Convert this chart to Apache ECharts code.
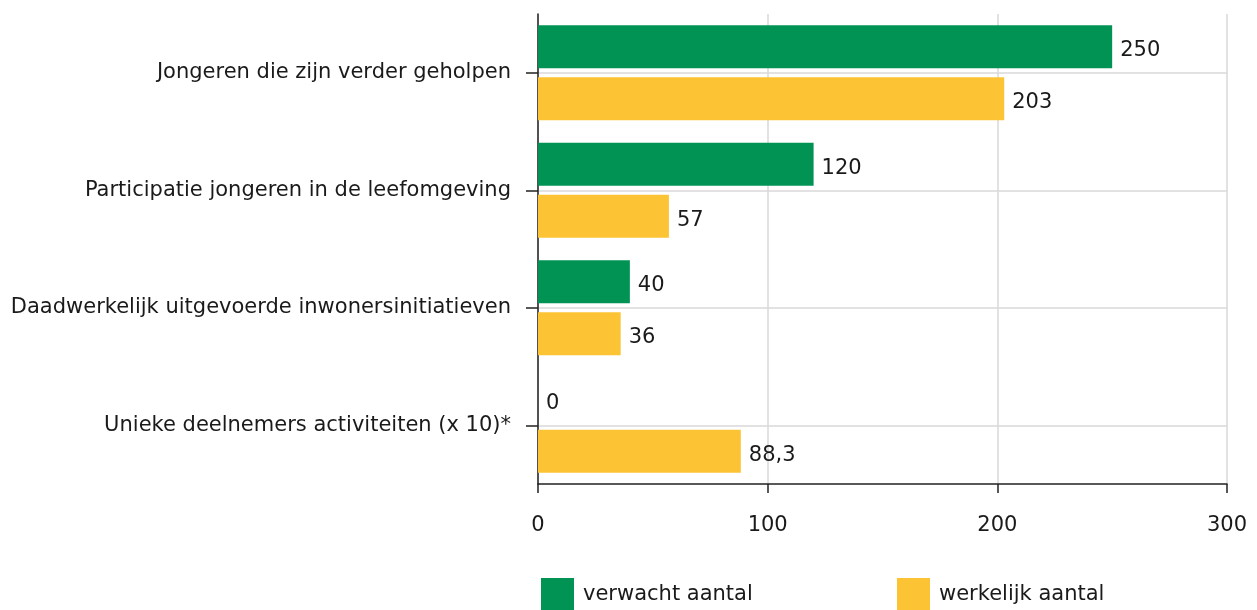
<!DOCTYPE html>
<html>
<head>
<meta charset="utf-8">
<script src="https://cdn.jsdelivr.net/npm/echarts@6/dist/echarts.min.js"></script>
<style>
html,body{margin:0;padding:0;background:#fff;}
#chart{width:1257px;height:610px;}
</style>
</head>
<body>
<div id="chart"></div>
<script>
const categories = [
  'Jongeren die zijn verder geholpen',
  'Participatie jongeren in de leefomgeving',
  'Daadwerkelijk uitgevoerde inwonersinitiatieven',
  'Unieke deelnemers activiteiten (x 10)*'
];
const seriesNames = ['verwacht aantal', 'werkelijk aantal'];
const verwacht = [250, 120, 40, 0];
const werkelijk = [203, 57, 36, 88.3];
const xTicks = { min: 0, max: 300, interval: 100 };

const FONT = 'DejaVu Sans';
const FS = 21;
const TXT = '#1a1a1a';
const fmt = v => String(v).replace('.', ',');

const chart = echarts.init(document.getElementById('chart'), null, { renderer: 'canvas' });
chart.setOption({
  animation: false,
  textStyle: { fontFamily: FONT },
  grid: { left: 538, right: 30, top: 14, bottom: 126, containLabel: false },
  legend: [
    { data: [seriesNames[0]], left: 541, top: 578, padding: 0, icon: 'rect', itemWidth: 33, itemHeight: 33, itemGap: 0,
      textStyle: { fontFamily: FONT, fontSize: FS, color: TXT, padding: [8, 0, 0, 4] } },
    { data: [seriesNames[1]], left: 897, top: 578, padding: 0, icon: 'rect', itemWidth: 33, itemHeight: 33, itemGap: 0,
      textStyle: { fontFamily: FONT, fontSize: FS, color: TXT, padding: [8, 0, 0, 4] } }
  ],
  xAxis: {
    type: 'value', min: xTicks.min, max: xTicks.max, interval: xTicks.interval,
    axisLine: { show: true, lineStyle: { color: '#222', width: 1.5 } },
    axisTick: { show: true, length: 9, lineStyle: { color: '#222', width: 1.5 } },
    axisLabel: { margin: 31, fontFamily: FONT, fontSize: FS, color: TXT },
    splitLine: { show: true, lineStyle: { color: '#d9d9d9', width: 1.5 } }
  },
  yAxis: {
    type: 'category', data: categories, inverse: true,
    axisLine: { show: true, lineStyle: { color: '#222', width: 1.5 } },
    axisTick: { show: true, length: 12, alignWithLabel: true, lineStyle: { color: '#222', width: 1.5 } },
    axisLabel: { margin: 27, fontFamily: FONT, fontSize: FS, color: TXT },
    splitLine: { show: true, alignWithLabel: true, lineStyle: { color: '#d9d9d9', width: 1.5 } }
  },
  series: [
    {
      name: seriesNames[0], type: 'bar', data: verwacht, barWidth: 43, barGap: '21%',
      itemStyle: { color: '#009354' },
      label: { show: true, position: 'right', distance: 8, offset: [0, 4], fontFamily: FONT, fontSize: FS, color: TXT,
        formatter: p => fmt(p.value) }
    },
    {
      name: seriesNames[1], type: 'bar', data: werkelijk, barWidth: 43,
      itemStyle: { color: '#FCC335' },
      label: { show: true, position: 'right', distance: 8, offset: [0, 4], fontFamily: FONT, fontSize: FS, color: TXT,
        formatter: p => fmt(p.value) }
    }
  ]
});
</script>
</body>
</html>
